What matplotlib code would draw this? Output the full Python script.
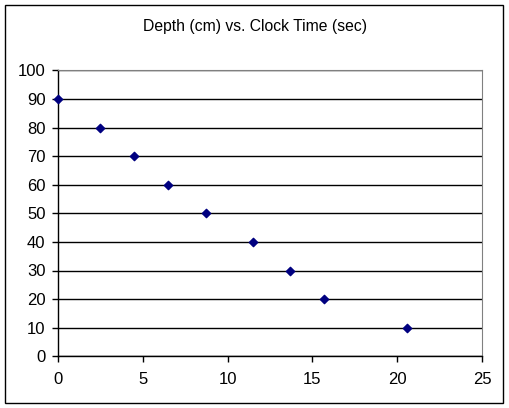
import matplotlib
matplotlib.use('Agg')
import matplotlib.pyplot as plt
from matplotlib.patches import Rectangle

clock_time = [0, 2.5, 4.5, 6.5, 8.7, 11.5, 13.7, 15.7, 20.55]
depth = [90, 80, 70, 60, 50, 40, 30, 20, 10]

plt.rcParams['font.family'] = 'Liberation Sans'

fig = plt.figure(figsize=(5.10, 4.08), dpi=100)
W, H = 510, 408

# outer chart border
fig.patches.append(Rectangle((5 / W, 5 / H), 498 / W, 398 / H, transform=fig.transFigure,
                             fill=False, edgecolor='black', linewidth=1))

ax = fig.add_axes([58 / W, (H - 356.3) / H, 424 / W, 286 / H])
ax.scatter(clock_time, depth, marker='D', s=18, color='#000080', zorder=3, clip_on=False)

ax.set_xlim(0, 25)
ax.set_ylim(0, 100)
ax.set_xticks(range(0, 26, 5))
ax.set_yticks(range(0, 101, 10))
ax.yaxis.grid(True, color='black', linewidth=1)
ax.set_axisbelow(True)

for s in ['top', 'right']:
    ax.spines[s].set_color('#808080')
for s in ['left', 'bottom']:
    ax.spines[s].set_color('black')
    ax.spines[s].set_linewidth(1)

ax.tick_params(direction='out', length=4, width=1, labelsize=12, color='black', pad=5)
ax.tick_params(axis='x', pad=7)

fig.text(0.5, (H - 26) / H, 'Depth (cm) vs. Clock Time (sec)', ha='center', va='center', fontsize=11.3)

fig.savefig('out.png', dpi=100)
